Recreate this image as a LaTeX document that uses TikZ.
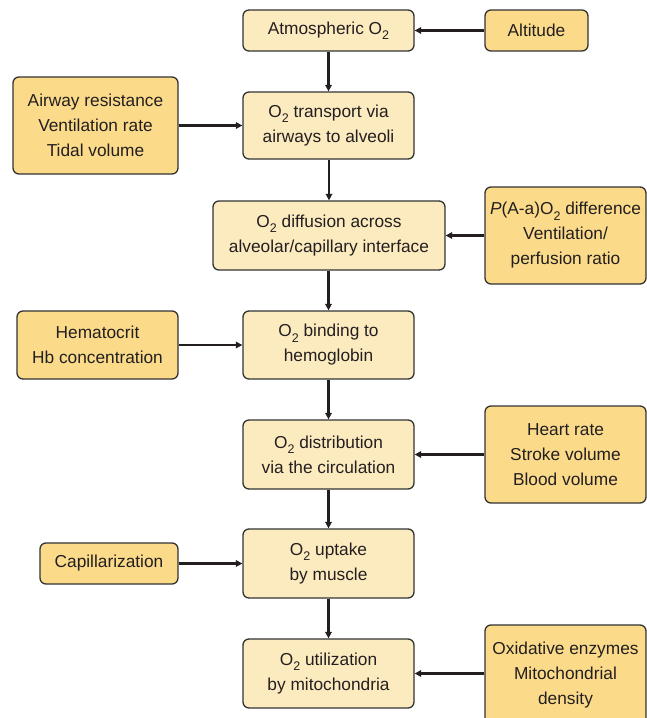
\documentclass[tikz,border=0pt]{standalone}
\usepackage{fontspec}
\setmainfont{Liberation Sans}
\usetikzlibrary{arrows.meta}
\definecolor{stepfill}{HTML}{FDEBC0}
\definecolor{factorfill}{HTML}{FBDB8A}
\definecolor{edgecol}{HTML}{333333}
\definecolor{inkcol}{HTML}{231F20}
% O with subscript 2 set in the text font
\newcommand\Otwo{O\raisebox{-0.3em}{\fontsize{12.5}{12.5}\selectfont 2}}
\begin{document}
\begin{tikzpicture}[x=1pt,y=-1pt,
  basebox/.style={draw=edgecol, line width=1.3pt, rounded corners=6pt,
    inner sep=0pt, align=center, text=inkcol,
    font=\fontsize{17.3}{25}\selectfont},
  stepbox/.style={basebox, fill=stepfill},
  factorbox/.style={basebox, fill=factorfill},
  arr/.style={draw=inkcol, line width=2.2pt,
    -{Triangle[length=6.5pt,width=6.5pt]}}
]
\useasboundingbox (0,0) rectangle (646,718);

% main chain
\node[stepbox, minimum width=171pt, minimum height=41pt] (atm) at (328.5,30.5) {Atmospheric \Otwo};
\node[stepbox, minimum width=171pt, minimum height=67pt] (trans) at (328.5,125.5) {\Otwo{} transport via\\airways to alveoli};
\node[stepbox, minimum width=232pt, minimum height=69pt] (diff) at (329,235.5) {\Otwo{} diffusion across\\alveolar/capillary interface};
\node[stepbox, minimum width=171pt, minimum height=68pt] (bind) at (328.5,345) {\Otwo{} binding to\\hemoglobin};
\node[stepbox, minimum width=171pt, minimum height=69pt] (dist) at (328.5,454.5) {\Otwo{} distribution\\via the circulation};
\node[stepbox, minimum width=171pt, minimum height=69pt] (upt) at (328.5,563.5) {\Otwo{} uptake\\by muscle};
\node[stepbox, minimum width=171pt, minimum height=69pt] (util) at (328.5,673.5) {\Otwo{} utilization\\by mitochondria};

% influencing factors
\node[factorbox, minimum width=103pt, minimum height=41pt] (alt) at (536.5,30.5) {Altitude};
\node[factorbox, minimum width=165pt, minimum height=97pt] (airway) at (95.5,125.5) {Airway resistance\\Ventilation rate\\Tidal volume};
\node[factorbox, minimum width=161pt, minimum height=97pt] (paa) at (565.5,235.5) {\textit{P}(A-a)\Otwo{} difference\\Ventilation/\\perfusion ratio};
\node[factorbox, minimum width=161pt, minimum height=68pt] (hct) at (97.5,345) {Hematocrit\\Hb concentration};
\node[factorbox, minimum width=161pt, minimum height=97pt] (heart) at (565.5,454.5) {Heart rate\\Stroke volume\\Blood volume};
\node[factorbox, minimum width=138pt, minimum height=41pt] (cap) at (109,563.5) {Capillarization};
\node[factorbox, minimum width=161pt, minimum height=100pt] (oxi) at (565.5,675) {Oxidative enzymes\\Mitochondrial\\density};

% flow down the chain
\draw[arr] (atm) -- (trans);
\draw[arr] (trans.south -| diff.north) -- (diff);
\draw[arr] (diff.south -| bind.north) -- (bind);
\draw[arr] (bind) -- (dist);
\draw[arr] (dist) -- (upt);
\draw[arr] (upt) -- (util);

% factor arrows
\draw[arr] (alt) -- (atm);
\draw[arr] (airway) -- (trans);
\draw[arr] (paa) -- (diff);
\draw[arr] (hct) -- (bind);
\draw[arr] (heart) -- (dist);
\draw[arr] (cap) -- (upt);
\draw[arr] (oxi.west |- util.east) -- (util.east);
\end{tikzpicture}
\end{document}
